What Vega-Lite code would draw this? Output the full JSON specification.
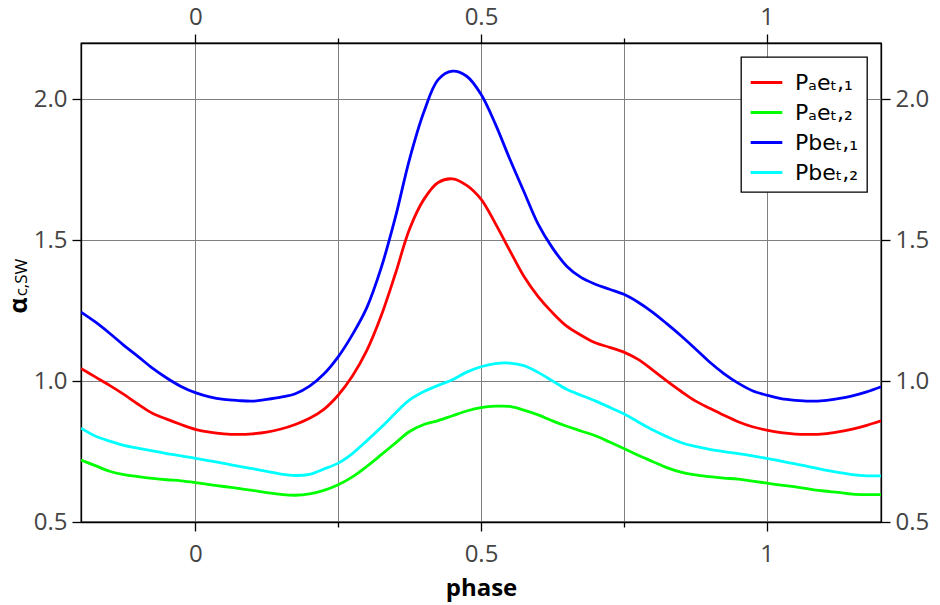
{
  "$schema": "https://vega.github.io/schema/vega-lite/v6.json",
  "width": 800,
  "height": 479,
  "autosize": "none",
  "padding": {"left": 81, "top": 43, "right": 59, "bottom": 83},
  "background": "white",
  "config": {
    "font": "Open Sans",
    "view": {"stroke": "black", "strokeWidth": 1.3},
    "axis": {
      "domainColor": "black",
      "domainWidth": 1.3,
      "tickColor": "black",
      "tickWidth": 1.3,
      "gridColor": "#808080",
      "gridWidth": 1,
      "gridOpacity": 1,
      "labelFont": "Open Sans",
      "labelFontSize": 24,
      "labelColor": "#444444",
      "titleFont": "Open Sans",
      "titleColor": "black"
    },
    "legend": {
      "orient": "top-right",
      "offset": 14,
      "padding": 8,
      "strokeColor": "black",
      "strokeWidth": 1.3,
      "fillColor": "white",
      "cornerRadius": 0,
      "labelFont": "DejaVu Sans",
      "labelFontSize": 22,
      "labelColor": "black",
      "symbolType": "stroke",
      "symbolStrokeWidth": 3,
      "symbolSize": 1000,
      "rowPadding": 1,
      "labelOffset": 11
    }
  },
  "data": {
    "values": [
      {"phase": -0.2, "a1": 1.045, "a2": 0.720, "b1": 1.245, "b2": 0.833},
      {"phase": -0.175, "a1": 1.015, "a2": 0.700, "b1": 1.210, "b2": 0.805},
      {"phase": -0.15, "a1": 0.985, "a2": 0.680, "b1": 1.170, "b2": 0.787},
      {"phase": -0.125, "a1": 0.953, "a2": 0.668, "b1": 1.127, "b2": 0.772},
      {"phase": -0.1, "a1": 0.918, "a2": 0.661, "b1": 1.087, "b2": 0.762},
      {"phase": -0.075, "a1": 0.886, "a2": 0.655, "b1": 1.046, "b2": 0.752},
      {"phase": -0.05, "a1": 0.865, "a2": 0.650, "b1": 1.011, "b2": 0.743},
      {"phase": -0.025, "a1": 0.846, "a2": 0.646, "b1": 0.981, "b2": 0.735},
      {"phase": 0, "a1": 0.829, "a2": 0.640, "b1": 0.959, "b2": 0.726},
      {"phase": 0.025, "a1": 0.819, "a2": 0.633, "b1": 0.944, "b2": 0.717},
      {"phase": 0.05, "a1": 0.813, "a2": 0.626, "b1": 0.935, "b2": 0.708},
      {"phase": 0.075, "a1": 0.811, "a2": 0.619, "b1": 0.931, "b2": 0.698},
      {"phase": 0.1, "a1": 0.813, "a2": 0.612, "b1": 0.929, "b2": 0.689},
      {"phase": 0.125, "a1": 0.819, "a2": 0.604, "b1": 0.935, "b2": 0.680},
      {"phase": 0.15, "a1": 0.830, "a2": 0.598, "b1": 0.943, "b2": 0.670},
      {"phase": 0.175, "a1": 0.846, "a2": 0.595, "b1": 0.955, "b2": 0.665},
      {"phase": 0.2, "a1": 0.868, "a2": 0.600, "b1": 0.982, "b2": 0.669},
      {"phase": 0.225, "a1": 0.900, "a2": 0.612, "b1": 1.025, "b2": 0.688},
      {"phase": 0.25, "a1": 0.950, "a2": 0.632, "b1": 1.086, "b2": 0.709},
      {"phase": 0.275, "a1": 1.018, "a2": 0.660, "b1": 1.165, "b2": 0.743},
      {"phase": 0.3, "a1": 1.108, "a2": 0.697, "b1": 1.260, "b2": 0.788},
      {"phase": 0.325, "a1": 1.230, "a2": 0.738, "b1": 1.400, "b2": 0.835},
      {"phase": 0.35, "a1": 1.380, "a2": 0.780, "b1": 1.580, "b2": 0.886},
      {"phase": 0.375, "a1": 1.540, "a2": 0.821, "b1": 1.788, "b2": 0.933},
      {"phase": 0.4, "a1": 1.645, "a2": 0.846, "b1": 1.955, "b2": 0.963},
      {"phase": 0.425, "a1": 1.705, "a2": 0.860, "b1": 2.070, "b2": 0.985},
      {"phase": 0.45, "a1": 1.718, "a2": 0.877, "b1": 2.100, "b2": 1.005},
      {"phase": 0.475, "a1": 1.695, "a2": 0.894, "b1": 2.082, "b2": 1.032},
      {"phase": 0.5, "a1": 1.646, "a2": 0.906, "b1": 2.018, "b2": 1.051},
      {"phase": 0.525, "a1": 1.560, "a2": 0.911, "b1": 1.913, "b2": 1.062},
      {"phase": 0.55, "a1": 1.465, "a2": 0.910, "b1": 1.790, "b2": 1.064},
      {"phase": 0.575, "a1": 1.372, "a2": 0.897, "b1": 1.673, "b2": 1.055},
      {"phase": 0.6, "a1": 1.300, "a2": 0.880, "b1": 1.557, "b2": 1.031},
      {"phase": 0.625, "a1": 1.243, "a2": 0.859, "b1": 1.473, "b2": 1.001},
      {"phase": 0.65, "a1": 1.195, "a2": 0.840, "b1": 1.408, "b2": 0.971},
      {"phase": 0.675, "a1": 1.163, "a2": 0.823, "b1": 1.368, "b2": 0.950},
      {"phase": 0.7, "a1": 1.136, "a2": 0.806, "b1": 1.344, "b2": 0.930},
      {"phase": 0.725, "a1": 1.120, "a2": 0.784, "b1": 1.326, "b2": 0.907},
      {"phase": 0.75, "a1": 1.103, "a2": 0.761, "b1": 1.308, "b2": 0.884},
      {"phase": 0.775, "a1": 1.077, "a2": 0.737, "b1": 1.280, "b2": 0.855},
      {"phase": 0.8, "a1": 1.040, "a2": 0.715, "b1": 1.245, "b2": 0.827},
      {"phase": 0.825, "a1": 1.001, "a2": 0.693, "b1": 1.204, "b2": 0.803},
      {"phase": 0.85, "a1": 0.964, "a2": 0.677, "b1": 1.161, "b2": 0.782},
      {"phase": 0.875, "a1": 0.930, "a2": 0.667, "b1": 1.115, "b2": 0.768},
      {"phase": 0.9, "a1": 0.904, "a2": 0.661, "b1": 1.068, "b2": 0.758},
      {"phase": 0.925, "a1": 0.879, "a2": 0.656, "b1": 1.027, "b2": 0.750},
      {"phase": 0.95, "a1": 0.856, "a2": 0.652, "b1": 0.993, "b2": 0.743},
      {"phase": 0.975, "a1": 0.838, "a2": 0.645, "b1": 0.966, "b2": 0.735},
      {"phase": 1.0, "a1": 0.826, "a2": 0.638, "b1": 0.950, "b2": 0.726},
      {"phase": 1.025, "a1": 0.817, "a2": 0.631, "b1": 0.938, "b2": 0.716},
      {"phase": 1.05, "a1": 0.812, "a2": 0.625, "b1": 0.932, "b2": 0.706},
      {"phase": 1.075, "a1": 0.811, "a2": 0.617, "b1": 0.929, "b2": 0.696},
      {"phase": 1.1, "a1": 0.813, "a2": 0.610, "b1": 0.931, "b2": 0.685},
      {"phase": 1.125, "a1": 0.820, "a2": 0.605, "b1": 0.938, "b2": 0.676},
      {"phase": 1.15, "a1": 0.830, "a2": 0.599, "b1": 0.948, "b2": 0.668},
      {"phase": 1.175, "a1": 0.843, "a2": 0.597, "b1": 0.962, "b2": 0.664},
      {"phase": 1.2, "a1": 0.859, "a2": 0.597, "b1": 0.980, "b2": 0.664}
    ]
  },
  "transform": [
    {"fold": ["a1", "a2", "b1", "b2"], "as": ["series", "value"]}
  ],
  "resolve": {"axis": {"x": "independent", "y": "independent"}},
  "layer": [
    {
      "mark": {"type": "line", "strokeWidth": 2.8, "interpolate": "catmull-rom", "clip": true},
      "encoding": {
        "x": {
          "field": "phase",
          "type": "quantitative",
          "scale": {"domain": [-0.2, 1.2], "nice": false, "zero": false},
          "axis": {
            "orient": "bottom",
            "values": [0, 0.25, 0.5, 0.75, 1],
            "format": ".2~f",
            "labelExpr": "(datum.value == 0.25 || datum.value == 0.75) ? '' : datum.label",
            "tickSize": {"condition": {"test": "datum.value == 0.25 || datum.value == 0.75", "value": 5}, "value": 9},
            "labelPadding": 11,
            "grid": true,
            "title": "phase",
            "titleFontSize": 24,
            "titleFontWeight": "bold",
            "titlePadding": 10
          }
        },
        "y": {
          "field": "value",
          "type": "quantitative",
          "scale": {"domain": [0.5, 2.2], "nice": false, "zero": false},
          "axis": {
            "orient": "left",
            "values": [0.5, 1, 1.5, 2],
            "format": ".1f",
            "tickSize": 9,
            "labelPadding": 5,
            "grid": true,
            "title": "α",
            "titleFontSize": 25,
            "titleFontWeight": "bold",
            "titleAlign": "center",
            "titleBaseline": "middle",
            "titleAngle": -90,
            "titleX": -63,
            "titleY": 262
          }
        },
        "color": {
          "field": "series",
          "type": "nominal",
          "scale": {"domain": ["a1", "a2", "b1", "b2"], "range": ["#ff0000", "#00ff00", "#0000ff", "#00ffff"]},
          "legend": {
            "title": null,
            "labelExpr": "{'a1': 'Pₐeₜ,₁', 'a2': 'Pₐeₜ,₂', 'b1': 'Pbeₜ,₁', 'b2': 'Pbeₜ,₂'}[datum.value]"
          }
        }
      }
    },
    {
      "mark": {"type": "point", "opacity": 0},
      "encoding": {
        "x": {
          "field": "phase",
          "type": "quantitative",
          "axis": {
            "orient": "top",
            "values": [0, 0.25, 0.5, 0.75, 1],
            "format": ".2~f",
            "labelExpr": "(datum.value == 0.25 || datum.value == 0.75) ? '' : datum.label",
            "tickSize": {"condition": {"test": "datum.value == 0.25 || datum.value == 0.75", "value": 5}, "value": 9},
            "labelPadding": 5,
            "grid": false,
            "title": null
          }
        },
        "y": {
          "field": "value",
          "type": "quantitative",
          "axis": {
            "orient": "right",
            "values": [0.5, 1, 1.5, 2],
            "format": ".1f",
            "tickSize": 9,
            "labelPadding": 5,
            "grid": false,
            "title": null
          }
        }
      }
    },
    {
      "mark": {"type": "point", "opacity": 0},
      "encoding": {
        "x": {"field": "phase", "type": "quantitative", "axis": null},
        "y": {
          "field": "value",
          "type": "quantitative",
          "axis": {
            "orient": "left",
            "values": [],
            "labels": false,
            "ticks": false,
            "domain": false,
            "grid": false,
            "title": "c,SW",
            "titleFontSize": 17,
            "titleFontWeight": "normal",
            "titleAlign": "center",
            "titleBaseline": "middle",
            "titleAngle": -90,
            "titleX": -60,
            "titleY": 234
          }
        }
      }
    }
  ]
}
